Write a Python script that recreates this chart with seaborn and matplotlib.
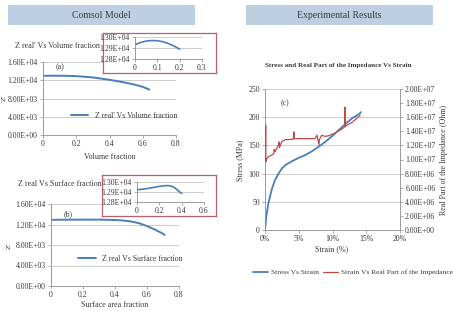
import numpy as np
import pandas as pd
import matplotlib
matplotlib.use("Agg")
import matplotlib.pyplot as plt
import seaborn as sns
from matplotlib.ticker import FuncFormatter

# ---------------- data ----------------
vol_frac = [0, 0.05, 0.1, 0.15, 0.2, 0.3, 0.4, 0.5, 0.55, 0.6, 0.64]
z_vol = [12980, 12990, 12985, 12960, 12900, 12620, 12100, 11450, 11050, 10550, 9950]

vol_frac_zoom = [0, 0.025, 0.05, 0.075, 0.1, 0.125, 0.15, 0.175, 0.2]
z_vol_zoom = [12930, 12950, 12963, 12968, 12966, 12957, 12940, 12918, 12890]

surf_frac = [0, 0.1, 0.2, 0.3, 0.4, 0.45, 0.5, 0.55, 0.6, 0.65, 0.7, 0.71]
z_surf = [12920, 12935, 12950, 12950, 12880, 12780, 12600, 12250, 11700, 11000, 10200, 9950]

surf_frac_zoom = [0, 0.05, 0.1, 0.15, 0.2, 0.25, 0.28, 0.31, 0.34, 0.37, 0.4]
z_surf_zoom = [12922, 12928, 12936, 12946, 12956, 12963, 12964, 12958, 12940, 12912, 12885]

strain_blue = [0, 0.2, 0.5, 1, 1.5, 2, 2.5, 3, 4, 5, 6, 7, 8, 9, 10, 11, 12, 13, 14, 14.2]
stress = [0, 25, 47, 72, 89, 100, 109, 115, 122, 128, 133, 140, 148, 157, 167, 178, 189, 199, 206, 209]

strain_red = [0.05, 0.1, 0.12, 0.2, 0.5, 1.0, 1.3, 1.35, 1.5, 2.0, 2.1, 2.15, 2.5, 3.0, 4.2, 4.3, 4.35,
              5.9, 7.4, 7.7, 8.0, 8.05, 8.4, 8.9, 9.4, 10.4, 11.4, 11.8, 11.85, 11.9, 12.9, 14.1]
stress_red = [124, 186, 121, 125, 130, 133, 135, 143, 139, 151, 156, 146, 157, 160, 161, 174, 162,
              162, 162, 168, 151, 160, 168, 166, 167, 172, 179, 183, 218, 184, 191, 203]
impedance = [s * 8e4 for s in stress_red]

x_ticks_frac = [0, 0.2, 0.4, 0.6, 0.8]
y_ticks_z = [0, 4000, 8000, 12000, 16000]
strain_ticks = [0, 5, 10, 15, 20]

# ---------------- style ----------------
sns.set_style("white")
plt.rcParams["font.family"] = ["Liberation Serif", "DejaVu Serif"]

W, H = 453, 311
fig = plt.figure(figsize=(4.53, 3.11), dpi=100)

BLUE = "#4a7ebb"
RED = "#be4b48"
GRID = "#c4c4c4"
SPINE = "#8c8c8c"
TXT = "#3a3a3a"
FRAME = "#b9606b"
BANNER = "#bdd0e3"


def rect(x0, y0, x1, y1):
    return [x0 / W, 1 - y1 / H, (x1 - x0) / W, (y1 - y0) / H]


def pt(x, y):
    return (x / W, 1 - y / H)


sci = FuncFormatter(lambda v, p: f"{v:.2E}")
dec = FuncFormatter(lambda v, p: "0" if abs(v) < 1e-12 else f"{v:g}")
pct = FuncFormatter(lambda v, p: f"{v:g}%")


def style(ax, fs=5.6):
    for s in ["top", "right"]:
        ax.spines[s].set_visible(False)
    for s in ["left", "bottom"]:
        ax.spines[s].set_color(SPINE)
        ax.spines[s].set_linewidth(0.6)
    ax.tick_params(axis="both", length=2.2, width=0.5, color=SPINE,
                   labelsize=fs, labelcolor=TXT, pad=1.5, direction="out")
    ax.tick_params(axis="both", which="both", bottom=True, left=True)
    ax.yaxis.grid(True, color=GRID, lw=0.6)
    ax.xaxis.grid(False)
    ax.set_facecolor("none")
    ax.set_xlabel("")
    ax.set_ylabel("")


# ---------------- banners ----------------
for (x0, x1, txt) in [(8, 195, "Comsol Model"), (246, 433, "Experimental Results")]:
    b = fig.add_axes(rect(x0, 5, x1, 25))
    b.set_facecolor(BANNER)
    b.set_xticks([]); b.set_yticks([])
    for s in b.spines.values():
        s.set_visible(False)
    b.text(0.5, 0.5, txt, ha="center", va="center", fontsize=7, color=TXT, transform=b.transAxes)

# ---------------- panel (a) ----------------
axa = fig.add_axes(rect(43, 62, 176, 135))
sns.lineplot(x=vol_frac, y=z_vol, ax=axa, color=BLUE, lw=1.4, label="Z real' Vs Volume fraction")
style(axa)
axa.set_xlim(0, 0.8); axa.set_ylim(0, 16000)
axa.set_xticks(x_ticks_frac); axa.set_yticks(y_ticks_z)
axa.xaxis.set_major_formatter(dec); axa.yaxis.set_major_formatter(sci)
axa.legend(loc="center left", bbox_to_anchor=(0.19, 0.26), frameon=False, fontsize=5.6,
           handlelength=2.2, borderaxespad=0, labelcolor=TXT)
axa.text(0.13, 0.93, "(a)", transform=axa.transAxes, fontsize=5.8, color=TXT, ha="center", va="center")
fig.text(*pt(57, 46.5), "Z real' Vs Volume fraction", fontsize=5.8, color=TXT, ha="center", va="center")
fig.text(*pt(110, 157), "Volume fraction", fontsize=5.8, color=TXT, ha="center", va="center")
fig.text(*pt(4.5, 98), "Z'", fontsize=5.4, color=TXT, ha="center", va="center", rotation=90)

fa = fig.add_axes(rect(103, 33, 216, 73))
fa.set_facecolor("white"); fa.set_xticks([]); fa.set_yticks([])
for s in fa.spines.values():
    s.set_color(FRAME); s.set_linewidth(0.9)

ia = fig.add_axes(rect(135, 37, 202, 59))
sns.lineplot(x=vol_frac_zoom, y=z_vol_zoom, ax=ia, color=BLUE, lw=1.2)
style(ia)
ia.set_xlim(0, 0.3); ia.set_ylim(12800, 13000)
ia.set_xticks([0, 0.1, 0.2, 0.3]); ia.set_yticks([12800, 12900, 13000])
ia.xaxis.set_major_formatter(dec); ia.yaxis.set_major_formatter(sci)

# ---------------- panel (b) ----------------
axb = fig.add_axes(rect(51, 204, 179, 286))
sns.lineplot(x=surf_frac, y=z_surf, ax=axb, color=BLUE, lw=1.4, label="Z real Vs Surface fraction")
style(axb)
axb.set_xlim(0, 0.8); axb.set_ylim(0, 16000)
axb.set_xticks(x_ticks_frac); axb.set_yticks(y_ticks_z)
axb.xaxis.set_major_formatter(dec); axb.yaxis.set_major_formatter(sci)
axb.legend(loc="center left", bbox_to_anchor=(0.19, 0.33), frameon=False, fontsize=5.6,
           handlelength=2.2, borderaxespad=0, labelcolor=TXT)
axb.text(0.13, 0.88, "(b)", transform=axb.transAxes, fontsize=5.8, color=TXT, ha="center", va="center")
fig.text(*pt(60, 183.5), "Z real Vs Surface fraction", fontsize=5.8, color=TXT, ha="center", va="center")
fig.text(*pt(115, 305), "Surface area fraction", fontsize=5.8, color=TXT, ha="center", va="center")
fig.text(*pt(9, 246), "Z'", fontsize=5.4, color=TXT, ha="center", va="center", rotation=90)

fb = fig.add_axes(rect(102, 175, 216, 216))
fb.set_facecolor("white"); fb.set_xticks([]); fb.set_yticks([])
for s in fb.spines.values():
    s.set_color(FRAME); s.set_linewidth(0.9)

ib = fig.add_axes(rect(137, 182, 204, 202))
sns.lineplot(x=surf_frac_zoom, y=z_surf_zoom, ax=ib, color=BLUE, lw=1.2)
style(ib)
ib.set_xlim(0, 0.6); ib.set_ylim(12800, 13000)
ib.set_xticks([0, 0.2, 0.4, 0.6]); ib.set_yticks([12800, 12900, 13000])
ib.xaxis.set_major_formatter(dec); ib.yaxis.set_major_formatter(sci)

# ---------------- panel (c) ----------------
axc = fig.add_axes(rect(265, 89, 400, 230))
sns.lineplot(x=strain_blue, y=stress, ax=axc, color=BLUE, lw=1.3, label="Stress Vs Strain",
             sort=False, estimator=None)
style(axc)
axc.set_xlim(0, 20); axc.set_ylim(0, 250)
axc.set_xticks(strain_ticks); axc.set_yticks([0, 50, 100, 150, 200, 250])
axc.xaxis.set_major_formatter(pct)

axc2 = axc.twinx()
sns.lineplot(x=strain_red, y=impedance, ax=axc2, color=RED, lw=0.9,
             label="Strain Vs Real Part of the Impedance", sort=False, estimator=None)
axc2.set_ylim(0, 2e7)
axc2.set_yticks(np.arange(0, 2.0001e7, 2e6))
axc2.yaxis.set_major_formatter(sci)
axc2.set_ylabel("")
for s in ["top", "left", "bottom"]:
    axc2.spines[s].set_visible(False)
axc2.spines["right"].set_color(SPINE); axc2.spines["right"].set_linewidth(0.6)
axc2.tick_params(axis="y", length=2.2, width=0.5, color=SPINE, labelsize=5.6,
                 labelcolor=TXT, pad=1.5, direction="out")
axc2.grid(False)

h1, l1 = axc.get_legend_handles_labels()
h2, l2 = axc2.get_legend_handles_labels()
axc.get_legend().remove(); axc2.get_legend().remove()
fig.legend(h1 + h2, l1 + l2, loc="center", bbox_to_anchor=pt(353, 272), ncol=2, frameon=False,
           fontsize=5.4, handlelength=2.0, columnspacing=0.6, handletextpad=0.4, labelcolor=TXT)

axc.text(*pt(285, 103), "(c)", transform=fig.transFigure, fontsize=5.8, color=TXT, ha="center", va="center")
fig.text(*pt(338, 66), "Stress and Real Part of the Impedance Vs Strain", fontsize=5.1,
         fontweight="bold", color=TXT, ha="center", va="center")
fig.text(*pt(332, 249), "Strain (%)", fontsize=5.8, color=TXT, ha="center", va="center")
fig.text(*pt(240, 160), "Stress (MPa)", fontsize=5.8, color=TXT, ha="center", va="center", rotation=90)
fig.text(*pt(444, 160), "Real Part of the Impedance (Ohm)", fontsize=5.8, color=TXT,
         ha="center", va="center", rotation=90)

fig.savefig("out.png", dpi=100)
